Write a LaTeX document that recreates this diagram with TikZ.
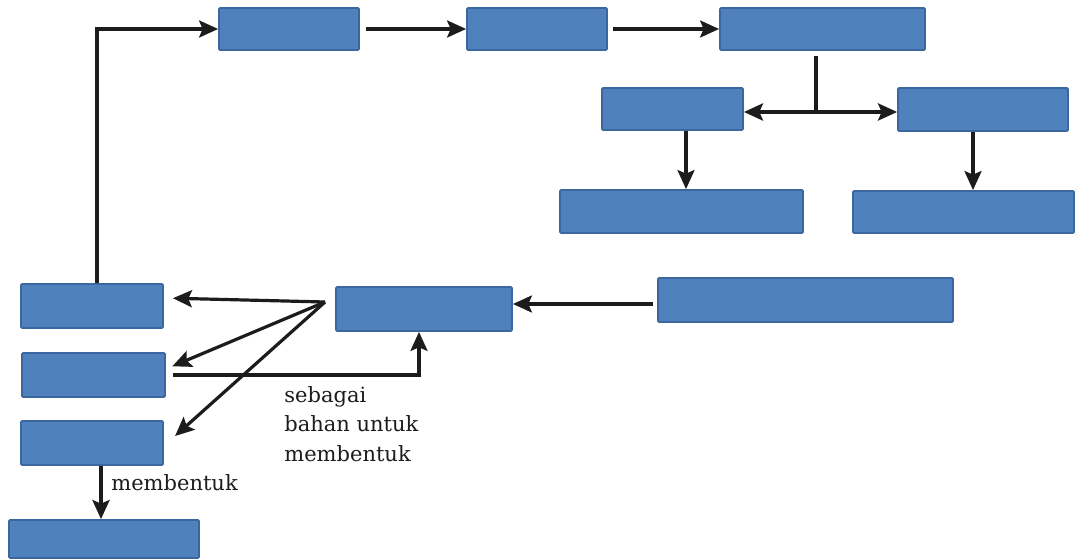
\documentclass[tikz,border=0pt]{standalone}
\usepackage{fontspec}
\setmainfont{DejaVu Serif}
\usetikzlibrary{arrows.meta}
\usetikzlibrary{calc}
\definecolor{boxfill}{HTML}{4F81BD}
\definecolor{boxline}{HTML}{3B66A0}
\definecolor{ink}{HTML}{1C1C1C}

\begin{document}
\begin{tikzpicture}[x=0.5pt, y=-0.5pt,
  box/.style={draw=boxline, fill=boxfill, line width=0.9pt, inner sep=0pt, rounded corners=0.6pt},
  arr/.style={draw=ink, line width=1.6pt, -{Stealth[length=9.5pt, width=8.5pt, inset=1.8pt]}},
  tag/.style={inner sep=0pt, font=\fontsize{10.5}{14.75}\selectfont, text=ink}]
  \useasboundingbox (0,0) rectangle (1075,560);
  % top row
  \node[box, minimum width=70pt, minimum height=21pt] (top1) at (289,29) {};
  \node[box, minimum width=70pt, minimum height=21pt] (top2) at (537,29) {};
  \node[box, minimum width=102.5pt, minimum height=21pt] (top3) at (822.5,29) {};
  % branches
  \node[box, minimum width=70.5pt, minimum height=21pt] (midL) at (672.5,109) {};
  \node[box, minimum width=85pt, minimum height=21.5pt] (midR) at (983,109.5) {};
  \node[box, minimum width=121.5pt, minimum height=21.5pt] (botL) at (681.5,211.5) {};
  \node[box, minimum width=110.5pt, minimum height=21pt] (botR) at (963.5,212) {};
  % middle row
  \node[box, minimum width=147.5pt, minimum height=22pt] (src) at (805.5,300) {};
  \node[box, minimum width=88pt, minimum height=22pt] (hub) at (424,309) {};
  % left column
  \node[box, minimum width=71pt, minimum height=22pt] (out1) at (92,306) {};
  \node[box, minimum width=71.5pt, minimum height=22pt] (out2) at (93.5,375) {};
  \node[box, minimum width=71pt, minimum height=22pt] (out3) at (92,443) {};
  \node[box, minimum width=95pt, minimum height=19pt] (final) at (104,539) {};
  \coordinate (split) at (816,112);
  \coordinate (fan) at (325,302);
  % connectors
  \draw[arr] ([xshift=2.5pt]out1.north) |- (top1.west);
  \draw[arr, shorten <=3pt] (top1.east) -- (top2.west);
  \draw[arr, shorten <=2.5pt] (top2.east) -- (top3.west);
  \draw[draw=ink, line width=1.6pt, shorten <=2.5pt] (top3.south -| split) -- (split);
  \draw[arr, line width=1.9pt] (split) -- (split -| midL.east);
  \draw[arr, line width=1.9pt] (split) -- (split -| midR.west);
  \draw[arr] ([xshift=6.75pt]midL.south) -- ([xshift=6.75pt]midL.south |- botL.north);
  \draw[arr] ([xshift=-5pt]midR.south) -- ([xshift=-5pt]midR.south |- botR.north);
  \draw[arr, shorten <=2pt] ([yshift=-2pt]src.west) -- ([yshift=-2pt]src.west -| hub.east);
  \draw[arr, shorten >=4.5pt] (fan) -- ([yshift=4pt]out1.east);
  \draw[arr, shorten >=3.5pt] (fan) -- ([yshift=3pt]out2.east);
  \draw[arr, shorten >=7.5pt] (fan) -- ([yshift=-1.5pt]out3.east);
  \draw[arr, shorten <=3.5pt] (out2.east) -| ([xshift=-2.5pt]hub.south);
  \draw[arr, line width=2.2pt] ([xshift=4.5pt]out3.south) -- ([xshift=4.5pt]out3.south |- final.north);
  % labels
  \node[tag, anchor=north west, align=left] (note) at (284,386) {sebagai\\bahan untuk\\membentuk};
  \node[tag, anchor=base west] (forms) at (111,490) {membentuk};
\end{tikzpicture}
\end{document}
